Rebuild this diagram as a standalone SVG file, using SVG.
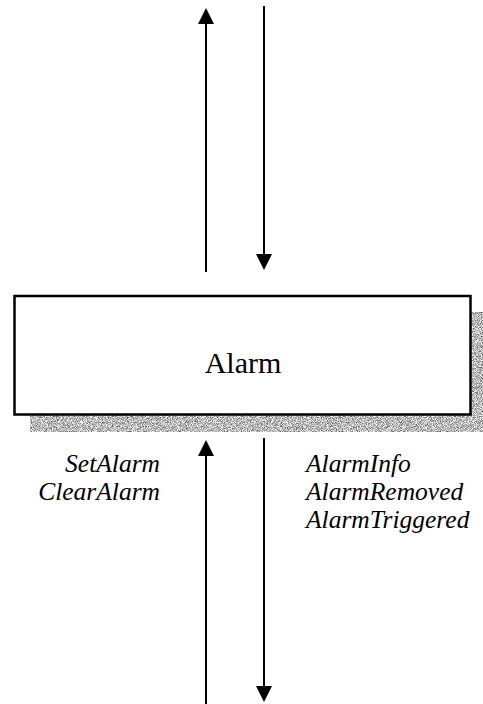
<svg xmlns="http://www.w3.org/2000/svg" width="483" height="704" viewBox="0 0 483 704">
  <style>
    .flow { stroke: #000; stroke-width: 2; fill: none; marker-end: url(#head); }
    .box { fill: #fff; stroke: #000; stroke-width: 2.5; }
    .title { font-family: 'Liberation Serif', serif; font-size: 30px; fill: #000; }
    .msg { font-family: 'Liberation Serif', serif; font-size: 25.5px; font-style: italic; fill: #000; }
  </style>
  <defs>
    <marker id="head" markerUnits="userSpaceOnUse" markerWidth="16" markerHeight="16" refX="0" refY="8" orient="auto" overflow="visible">
      <path d="M0,0 L16,8 L0,16 z" fill="#000"/>
    </marker>
    <!-- speckled grey texture for the drop shadow -->
    <filter id="grain" x="0" y="0" width="100%" height="100%" color-interpolation-filters="sRGB">
      <feTurbulence type="fractalNoise" baseFrequency="1.2" numOctaves="1" seed="7" result="noise"/>
      <feColorMatrix in="noise" type="matrix" values="1.6 0 0 0 -0.07  1.6 0 0 0 -0.07  1.6 0 0 0 -0.07  0 0 0 0 1" result="mono"/>
      <feComposite in="mono" in2="SourceGraphic" operator="in"/>
    </filter>
  </defs>

  <g id="connectors">
    <line class="flow" x1="206" y1="272" x2="206" y2="24"/>
    <line class="flow" x1="264" y1="6" x2="264" y2="254"/>
    <line class="flow" x1="206" y1="704" x2="206" y2="456"/>
    <line class="flow" x1="264" y1="438" x2="264" y2="686"/>
  </g>

  <g id="alarm">
    <rect x="30" y="312" width="458" height="120" fill="#b4b4b4" filter="url(#grain)"/>
    <rect class="box" x="14.5" y="296" width="456" height="118.5"/>
    <text class="title" x="243" y="373" text-anchor="middle">Alarm</text>
  </g>

  <g id="inputs">
    <text class="msg" x="160" y="472" text-anchor="end">SetAlarm</text>
    <text class="msg" x="160" y="500" text-anchor="end">ClearAlarm</text>
  </g>

  <g id="outputs">
    <text class="msg" x="306" y="472">AlarmInfo</text>
    <text class="msg" x="306" y="500">AlarmRemoved</text>
    <text class="msg" x="306" y="528">AlarmTriggered</text>
  </g>
</svg>
